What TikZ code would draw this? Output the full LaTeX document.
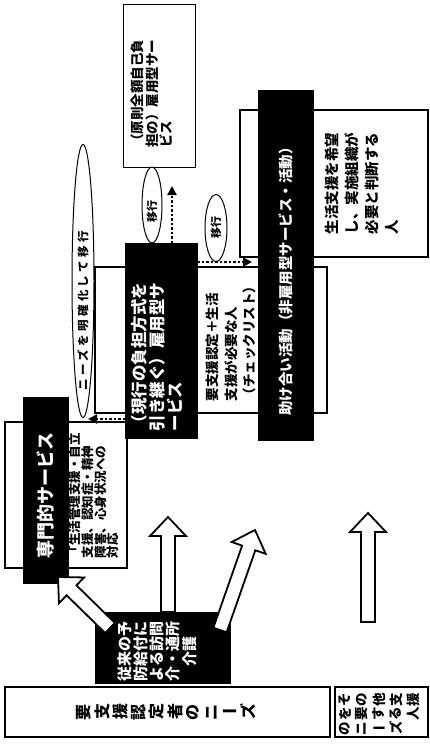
\documentclass[tikz,border=0pt]{standalone}
\usepackage{fontspec}
\newfontfamily\jp{Noto Sans CJK JP}
\usetikzlibrary{calc,arrows.meta,shapes.geometric}
\newcommand\jpf[2]{\fontsize{#1}{#2}\selectfont\jp\bfseries}
% spaced characters and vertical-set (rotated) characters
\newcommand\spw{14pt}
\def\sploop#1{\ifx#1\relax\else\makebox[\spw]{#1}\expandafter\sploop\fi}
\newcommand\spaced[2]{\renewcommand\spw{#1}\sploop#2\relax}
\newcommand\vtchar[1]{\ifx#1ー\makebox[\spw]{ー}\else\makebox[\spw]{\rotatebox[origin=c]{90}{#1}}\fi}
\def\vtloop#1{\ifx#1\relax\else\vtchar{#1}\expandafter\vtloop\fi}
\newcommand\vtext[2]{\renewcommand\spw{#1}\vtloop#2\relax}
\tikzset{
  wbox/.style={draw=black, line width=1.6pt, fill=white, inner sep=0pt, outer sep=0pt},
  thinbox/.style={draw=black, line width=1pt, fill=white, inner sep=0pt, outer sep=0pt},
  bbox/.style={fill=black, draw=black, inner sep=0pt, outer sep=0pt},
  txt/.style={inner sep=0pt, outer sep=0pt, align=left, rotate=90, anchor=north west},
  vrow/.style={inner sep=0pt, outer sep=0pt},
  ell/.style={ellipse, draw=black, line width=1pt, fill=white, inner sep=0pt},
  dotarr/.style={line width=2pt, dash pattern=on 2.5pt off 2pt, -{Triangle[length=9pt,width=9pt]}},
  hollow/.style={draw=black, fill=white, line width=1.8pt, line join=miter}
}
\newcommand\hollowarrow[2]{%
  \coordinate (hc) at ($(#2)!19pt!(#1)$);
  \path[hollow] ($(#1)!7pt!90:(#2)$) -- ($(hc)!7pt!90:(#2)$) -- ($(hc)!18pt!90:(#2)$)
    -- (#2) -- ($(hc)!18pt!-90:(#2)$) -- ($(hc)!7pt!-90:(#2)$) -- ($(#1)!7pt!-90:(#2)$) -- cycle;
}
\begin{document}
\begin{tikzpicture}[x=1pt,y=-1pt]
\fill[white] (0,0) rectangle (430,754);
\useasboundingbox (0,0) rectangle (430,754);

% white boxes
\node[wbox, minimum width=188pt, minimum height=147pt] (tasW) at (334,183.5) {};
\node[wbox, minimum width=232pt, minimum height=146pt] (genW) at (211,340) {};
\node[wbox, minimum width=122pt, minimum height=146pt] (spW) at (66,495) {};
\node[thinbox, minimum width=72pt, minimum height=163pt] (genrW) at (159,86.5) {};
\node[wbox, minimum width=325pt, minimum height=50pt] (needA) at (167.5,712) {};
\node[wbox, minimum width=93pt, minimum height=50pt] (needB) at (381.5,712) {};

% black boxes
\node[bbox, minimum width=45pt, minimum height=186pt] (spB) at (45.5,490) {};
\node[bbox, minimum width=72pt, minimum height=195pt] (genB) at (161,340.5) {};
\node[bbox, minimum width=55pt, minimum height=350pt] (tasB) at (285.5,265) {};
\node[bbox, minimum width=135pt, minimum height=71pt] (oldB) at (162.5,647.5) {};

% hollow arrows
\coordinate (h1s) at (110,628); \coordinate (h1e) at (58,577);
\coordinate (h2e) at (168,517); \coordinate (h2s) at (oldB.north -| h2e);
\coordinate (h3s) at (220,630); \coordinate (h3e) at (255,530);
\coordinate (h4s) at (368,622); \coordinate (h4e) at (368,513);
\hollowarrow{h1s}{h1e}
\hollowarrow{h2s}{h2e}
\hollowarrow{h3s}{h3e}
\hollowarrow{h4s}{h4e}

% transition tags
\node[ell, minimum width=22pt, minimum height=273pt] (e3) at (83,281) {};
\node[ell, minimum width=20pt, minimum height=76pt] (e1) at (152,205) {};
\node[ell, minimum width=22pt, minimum height=67pt] (e2) at (216,228) {};
\node[txt, anchor=center, font=\jpf{11.5}{12}] (e3t) at (83,311) {\spaced{14.8pt}{ニーズを明確化して移行}};
\node[txt, anchor=center, font=\jpf{11}{12}] (e1t) at (152,211) {移行};
\node[txt, anchor=center, font=\jpf{11}{12}] (e2t) at (216,227) {移行};

% dotted transition arrows
\coordinate (d1e) at (172,186);
\coordinate (d2e) at (252,262);
\coordinate (d3e) at (88,419);
\draw[dotarr] (genB.north -| d1e) -- (d1e);
\draw[dotarr] (genB.east |- d2e) -- (d2e);
\draw[dotarr] (genB.west |- d3e) -- (d3e);

% texts
\node[txt, anchor=center, font=\jpf{18}{20}, text=white] (spT) at (45,495) {専門的サービス};
\node[txt, font=\jpf{12.5}{12.7}] (spD) at (69,558) {「生活管理支援・自立\\支援、認知症・精神\\障害、心身状況への\\対応};
\node[txt, font=\jpf{16.5}{18}, text=white] (genT) at (131.75,431) {（現行の負担方式を\\引き継ぐ）雇用型サ\\ービス};
\node[txt, font=\jpf{13.5}{18.5}] (genD) at (206,401) {要支援認定＋生活\\支援が必要な人\\（チェックリスト）};
\node[txt, anchor=center, font=\jpf{14.5}{16}, text=white] (tasT) at (285.5,278) {助け合い活動（非雇用型サービス・活動）};
\node[txt, font=\jpf{14.5}{20}] (tasD) at (324.75,234) {生活支援を希望\\し、実施組織が\\必要と判断する\\人};
\node[txt, font=\jpf{13.5}{14.5}] (genrT) at (131,148) {（原則全額自己負\\担の）雇用型サー\\ビス};
\node[txt, font=\jpf{15}{16.2}, text=white] (oldT) at (117.5,681) {従来の予\\防給付に\\よる訪問\\介・通所\\\hspace*{1em}介護};

% vertical-set texts of the need boxes
\node[vrow, font=\jpf{16}{18}] (nA) at (166,712) {\vtext{18.2pt}{要支援認定者のニーズ}};
\node[vrow, anchor=west, font=\jpf{13.5}{15}] (nB1) at (336.5,700) {\vtext{17pt}{その他支援}};
\node[vrow, anchor=west, font=\jpf{13.5}{15}] (nB2) at (336.5,714) {\vtext{17pt}{を要する人}};
\node[vrow, anchor=west, font=\jpf{13.5}{15}] (nB3) at (336.5,728) {\vtext{17pt}{のニーズ}};
\end{tikzpicture}
\end{document}
